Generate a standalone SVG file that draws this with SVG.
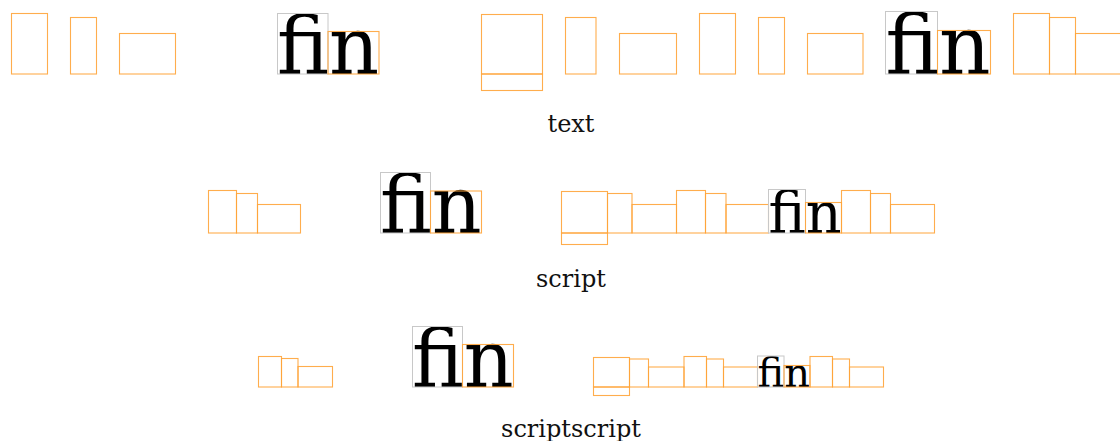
<svg xmlns="http://www.w3.org/2000/svg" width="1120" height="441" viewBox="0 0 1120 441">
<style>
.b{fill:none;stroke:#ffa43a;stroke-opacity:0.9;stroke-width:1.1}
.g{fill:none;stroke:#c8c8c8;stroke-width:1}
.t{font-family:"DejaVu Serif",serif;fill:#000}
.l{font-family:"DejaVu Serif",serif;font-size:24px;fill:#111;text-anchor:middle}
</style>
<rect width="1120" height="441" fill="#fff"/>
<g id="row-text">
<rect class="b" x="11.5" y="13.5" width="36" height="60.5"/>
<rect class="b" x="70.5" y="17.5" width="26" height="56.5"/>
<rect class="b" x="119.5" y="33.5" width="56" height="40.5"/>
<text class="t" x="277" y="74" font-size="80" textLength="102" lengthAdjust="spacingAndGlyphs">fin</text>
<rect class="g" x="277.5" y="13.5" width="50.5" height="60.5"/>
<rect class="b" x="328" y="31.5" width="51" height="42.5"/>
<rect class="b" x="481.5" y="14.5" width="61" height="59.5"/>
<rect class="b" x="481.5" y="74" width="61" height="16.5"/>
<rect class="b" x="565.5" y="17.5" width="30.5" height="56.5"/>
<rect class="b" x="619.5" y="33.5" width="57" height="40.5"/>
<rect class="b" x="699.5" y="13.5" width="36" height="60.5"/>
<rect class="b" x="758.5" y="17.5" width="26" height="56.5"/>
<rect class="b" x="807.5" y="33.5" width="55.5" height="40.5"/>
<text class="t" x="885.5" y="74" font-size="82" textLength="105" lengthAdjust="spacingAndGlyphs">fin</text>
<rect class="g" x="885.5" y="11.5" width="52" height="62.5"/>
<rect class="b" x="937.5" y="30.5" width="53" height="43.5"/>
<rect class="b" x="1013.5" y="13.5" width="36" height="60.5"/>
<rect class="b" x="1049.5" y="17.5" width="26" height="56.5"/>
<rect class="b" x="1075.5" y="33.5" width="60" height="40.5"/>
<text class="l" x="571" y="132">text</text>
</g>
<g id="row-script">
<rect class="b" x="208.5" y="190.5" width="28" height="42.5"/>
<rect class="b" x="236.5" y="193.5" width="21" height="39.5"/>
<rect class="b" x="257.5" y="204.5" width="43" height="28.5"/>
<text class="t" x="380" y="233" font-size="80" textLength="101.5" lengthAdjust="spacingAndGlyphs">fin</text>
<rect class="g" x="380.5" y="172.5" width="50" height="60.5"/>
<rect class="b" x="430.5" y="191" width="51" height="42"/>
<rect class="b" x="561.5" y="191.5" width="46" height="41.5"/>
<rect class="b" x="561.5" y="233" width="46" height="11.5"/>
<rect class="b" x="607.5" y="193.5" width="24.5" height="39.5"/>
<rect class="b" x="632" y="204.5" width="44.5" height="28.5"/>
<rect class="b" x="676.5" y="190.5" width="29" height="42.5"/>
<rect class="b" x="705.5" y="193.5" width="20.5" height="39.5"/>
<rect class="b" x="726" y="204.5" width="42.5" height="28.5"/>
<text class="t" x="768.5" y="233" font-size="58" textLength="73" lengthAdjust="spacingAndGlyphs">fin</text>
<rect class="g" x="768.5" y="189.5" width="37" height="43.5"/>
<rect class="b" x="805.5" y="202.5" width="36" height="30.5"/>
<rect class="b" x="841.5" y="190.5" width="29" height="42.5"/>
<rect class="b" x="870.5" y="193.5" width="20" height="39.5"/>
<rect class="b" x="890.5" y="204.5" width="44" height="28.5"/>
<text class="l" x="571" y="287">script</text>
</g>
<g id="row-scriptscript">
<rect class="b" x="258.5" y="356.5" width="23" height="30.5"/>
<rect class="b" x="281.5" y="358.5" width="16.5" height="28.5"/>
<rect class="b" x="298" y="366.5" width="34.5" height="20.5"/>
<text class="t" x="412" y="387" font-size="80" textLength="101.5" lengthAdjust="spacingAndGlyphs">fin</text>
<rect class="g" x="412.5" y="326.5" width="50" height="60.5"/>
<rect class="b" x="462.5" y="344.5" width="51" height="42.5"/>
<rect class="b" x="593.5" y="357.5" width="36" height="29.5"/>
<rect class="b" x="593.5" y="387" width="36" height="8.5"/>
<rect class="b" x="629.5" y="359" width="19" height="28"/>
<rect class="b" x="648.5" y="367" width="35.5" height="20"/>
<rect class="b" x="684" y="356.5" width="22.5" height="30.5"/>
<rect class="b" x="706.5" y="359" width="17" height="28"/>
<rect class="b" x="723.5" y="367" width="34" height="20"/>
<text class="t" x="757.5" y="387" font-size="41" textLength="52.5" lengthAdjust="spacingAndGlyphs">fin</text>
<rect class="g" x="757.5" y="356" width="26.5" height="31"/>
<rect class="b" x="784" y="365.5" width="26" height="21.5"/>
<rect class="b" x="810" y="356.5" width="22.5" height="30.5"/>
<rect class="b" x="832.5" y="359" width="17" height="28"/>
<rect class="b" x="849.5" y="367" width="34" height="20"/>
<text class="l" x="571" y="437">scriptscript</text>
</g>
</svg>
